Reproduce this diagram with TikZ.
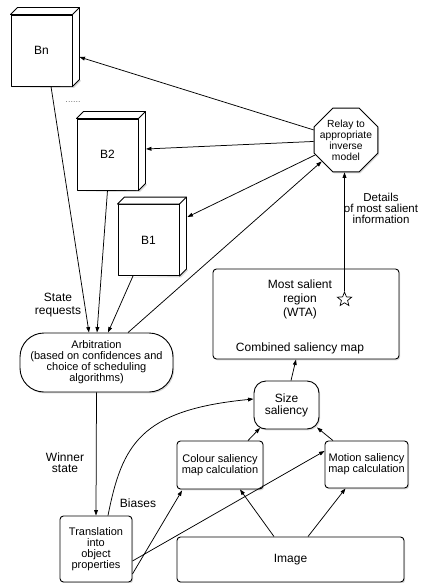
\documentclass[tikz,border=0pt]{standalone}
\usepackage{fontspec}
\setmainfont{Liberation Sans}
\usetikzlibrary{shapes.geometric,arrows.meta,shadows}

% top and right faces of a 3-D block whose front face is the node #1
\newcommand{\drawblockfaces}[1]{%
  \fill[black!30,opacity=0.5] ([shift={(1.5,1.5)}]#1.south west) -- ([shift={(1.5,1.5)}]#1.south east)
     -- ([shift={(8.5,-5.5)}]#1.south east) -- ([shift={(7,-7)}]#1.south east) -- (#1.south east) -- cycle;
  \draw[blockline,fill=white] (#1.north west) -- ++(7,-7) -- ([shift={(7,-7)}]#1.north east)
     -- ([shift={(7,-7)}]#1.south east) -- (#1.south east) -- (#1.north east) -- cycle;
  \draw[blockline] (#1.north east) -- ([shift={(7,-7)}]#1.north east);
}

\begin{document}
\begin{tikzpicture}[x=1pt,y=-1pt,
  shade/.style={drop shadow={opacity=0.3,shadow xshift=1.2pt,shadow yshift=-1.4pt}},
  blockline/.style={line width=0.9pt,line join=round},
  block/.style={draw,blockline,fill=white,minimum width=61pt,minimum height=71pt,inner sep=0pt,
    font=\fontsize{12}{13}\selectfont},
  box/.style={draw,line width=0.9pt,fill=white,rounded corners=3.5pt,inner sep=0pt,align=center,shade},
  txt/.style={align=center,inner sep=0pt},
  f12/.style={font=\fontsize{12}{13}\selectfont},
  f11/.style={font=\fontsize{11}{11}\selectfont},
  conn/.style={line width=0.75pt,-{Triangle[length=5.5pt,width=3.8pt]}}]
\useasboundingbox (0,0) rectangle (423,583);

% behaviour blocks
\node[block] (Bn) at (41.5,50.5) {Bn};
\drawblockfaces{Bn}
\node[block] (B2) at (107.5,154.5) {B2};
\drawblockfaces{B2}
\node[block] (B1) at (148.5,240) {B1};
\drawblockfaces{B1}
\node[txt,font=\fontsize{9}{9}\selectfont,text=black!55] (dots) at (73,102) {......};

% relay octagon
\node[regular polygon,regular polygon sides=8,minimum size=69pt,draw,line width=0.9pt,fill=white,shade,inner sep=0pt]
  (relay) at (346,140) {};
\node[txt,font=\fontsize{10.3}{11}\selectfont] (relaytext) at (346,140) {Relay to\\appropriate\\inverse\\model};

% arbitration
\node[draw,line width=0.9pt,fill=white,rounded corners=24pt,minimum width=153pt,minimum height=59pt,shade]
  (arb) at (96.5,362.5) {};
\node[txt,f11] (arbtext) at (96.5,362.5) {Arbitration\\(based on confidences and\\choice of scheduling\\algorithms)};

% saliency pipeline
\node[box,minimum width=186pt,minimum height=90pt] (combined) at (306,314) {};
\node[txt,font=\fontsize{12}{14}\selectfont] (wta) at (300,299) {Most salient\\region\\(WTA)};
\node[txt,f12] (combinedlabel) at (300,348) {Combined saliency map};
\node[star,star points=5,star point ratio=2.3,draw,line width=0.7pt,minimum size=15pt,inner sep=0pt]
  (star) at (344.5,299.5) {};

\node[box,rounded corners=12pt,minimum width=65pt,minimum height=48pt,font=\fontsize{12}{12}\selectfont]
  (size) at (286.5,405) {Size\\saliency};
\node[box,minimum width=86pt,minimum height=48pt,f11] (colour) at (220,465) {Colour saliency\\map calculation};
\node[box,minimum width=83pt,minimum height=47pt,f11] (motion) at (366.5,464.5) {Motion saliency\\map calculation};
\node[box,minimum width=227pt,minimum height=45pt,f12] (image) at (290.5,559.5) {Image};
\node[box,minimum width=72pt,minimum height=66pt,f11] (trans) at (96,549) {Translation\\into\\object\\properties};

% labels
\node[txt,font=\fontsize{12}{13}\selectfont] (statereq) at (58,305.5) {State\\requests};
\node[txt,font=\fontsize{12}{11.5}\selectfont] (winner) at (65,462.5) {Winner\\state};
\node[txt,f12] (biases) at (138,503) {Biases};
\node[txt,font=\fontsize{11.5}{11}\selectfont] (details) at (381,208.5) {Details\\of most salient\\information};

% connectors
\draw[conn] ([xshift=9.5]Bn.south) -- ([xshift=-7.5]arb.north);
\draw[conn] (B2.south) -- ([xshift=0.5]arb.north);
\draw[conn] ([xshift=-15.5]B1.south) -- ([xshift=11.5]arb.north);
\draw[conn] ([xshift=31.5]arb.north) -- (relay);
\draw[conn] (relay) -- ([shift={(7,6.5)}]Bn.east);
\draw[conn] (relay) -- ([shift={(7.5,-5.5)}]B2.east);
\draw[conn] (relay) -- ([shift={(8,-23)}]B1.east);
\draw[conn] (star.north) -- (star.north |- relay.south);
\draw[conn] (arb.south) -- (trans.north);
\draw[conn] ([xshift=4.5]size.north) -- ([xshift=-10]combined.south);
\draw[conn] ([xshift=28]colour.north) -- ([shift={(6.5,-1.5)}]size.south west);
\draw[conn] ([xshift=-33.5]motion.north) -- ([shift={(-2.5,-2)}]size.south east);
\draw[conn] ([xshift=-16.5]image.north) -- ([xshift=20]colour.south);
\draw[conn] ([xshift=17.5]image.north) -- ([xshift=-21]motion.south);
\draw[conn] ([yshift=-25]trans.east) -- ([shift={(5.5,1)}]colour.south west);
\draw[conn] ([yshift=-12]trans.east) -- ([yshift=13.5]motion.west);
\draw[conn] ([xshift=12]trans.north) .. controls (122,445) and (140,410) .. ([yshift=6]size.west);
\end{tikzpicture}
\end{document}
